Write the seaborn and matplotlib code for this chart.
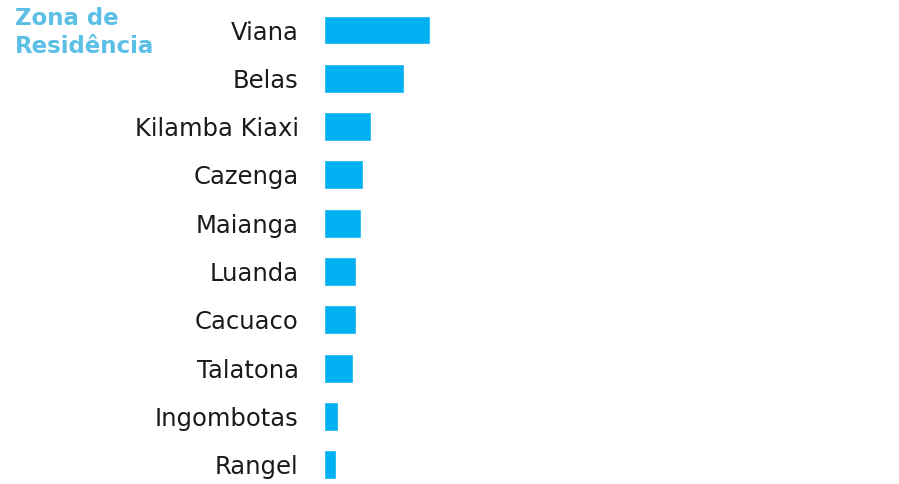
import matplotlib
matplotlib.use("Agg")
import matplotlib.pyplot as plt
import pandas as pd
import seaborn as sb

# dados
zonas = ["Viana", "Belas", "Kilamba Kiaxi", "Cazenga", "Maianga",
         "Luanda", "Cacuaco", "Talatona", "Ingombotas", "Rangel"]
valores = [33.1, 25.0, 14.8, 12.3, 11.6, 10.1, 10.0, 9.25, 4.5, 3.85]

df = pd.DataFrame({"zona": zonas, "valor": valores})

sb.set_theme(style="white")
plt.rcParams["font.family"] = ["DejaVu Sans"]

fig = plt.figure(figsize=(8.99, 4.84), dpi=100)
ax = fig.add_axes([323.7 / 899, 0, 1 - 323.7 / 899, 1])

sb.barplot(x="valor", y="zona", data=df, color="#00B0F0", width=0.6,
           saturation=1, ax=ax)

ax.set_xlim(0, 575.3 / 3.2)
ax.set_ylim((484 - 30) / 48.3, -30 / 48.3)
ax.set_xlabel("")
ax.set_ylabel("")
ax.set_xticks([])
ax.tick_params(axis="y", length=0, pad=18, labelsize=17.5, labelcolor="#1a1a1a")
for s in ax.spines.values():
    s.set_visible(False)

fig.text(15 / 899, 1 - 7 / 484, "Zona de\nResidência", ha="left", va="top",
         fontsize=16.5, fontweight="bold", color="#5BBFE6", linespacing=1.3)

fig.savefig("out.png", dpi=100)
